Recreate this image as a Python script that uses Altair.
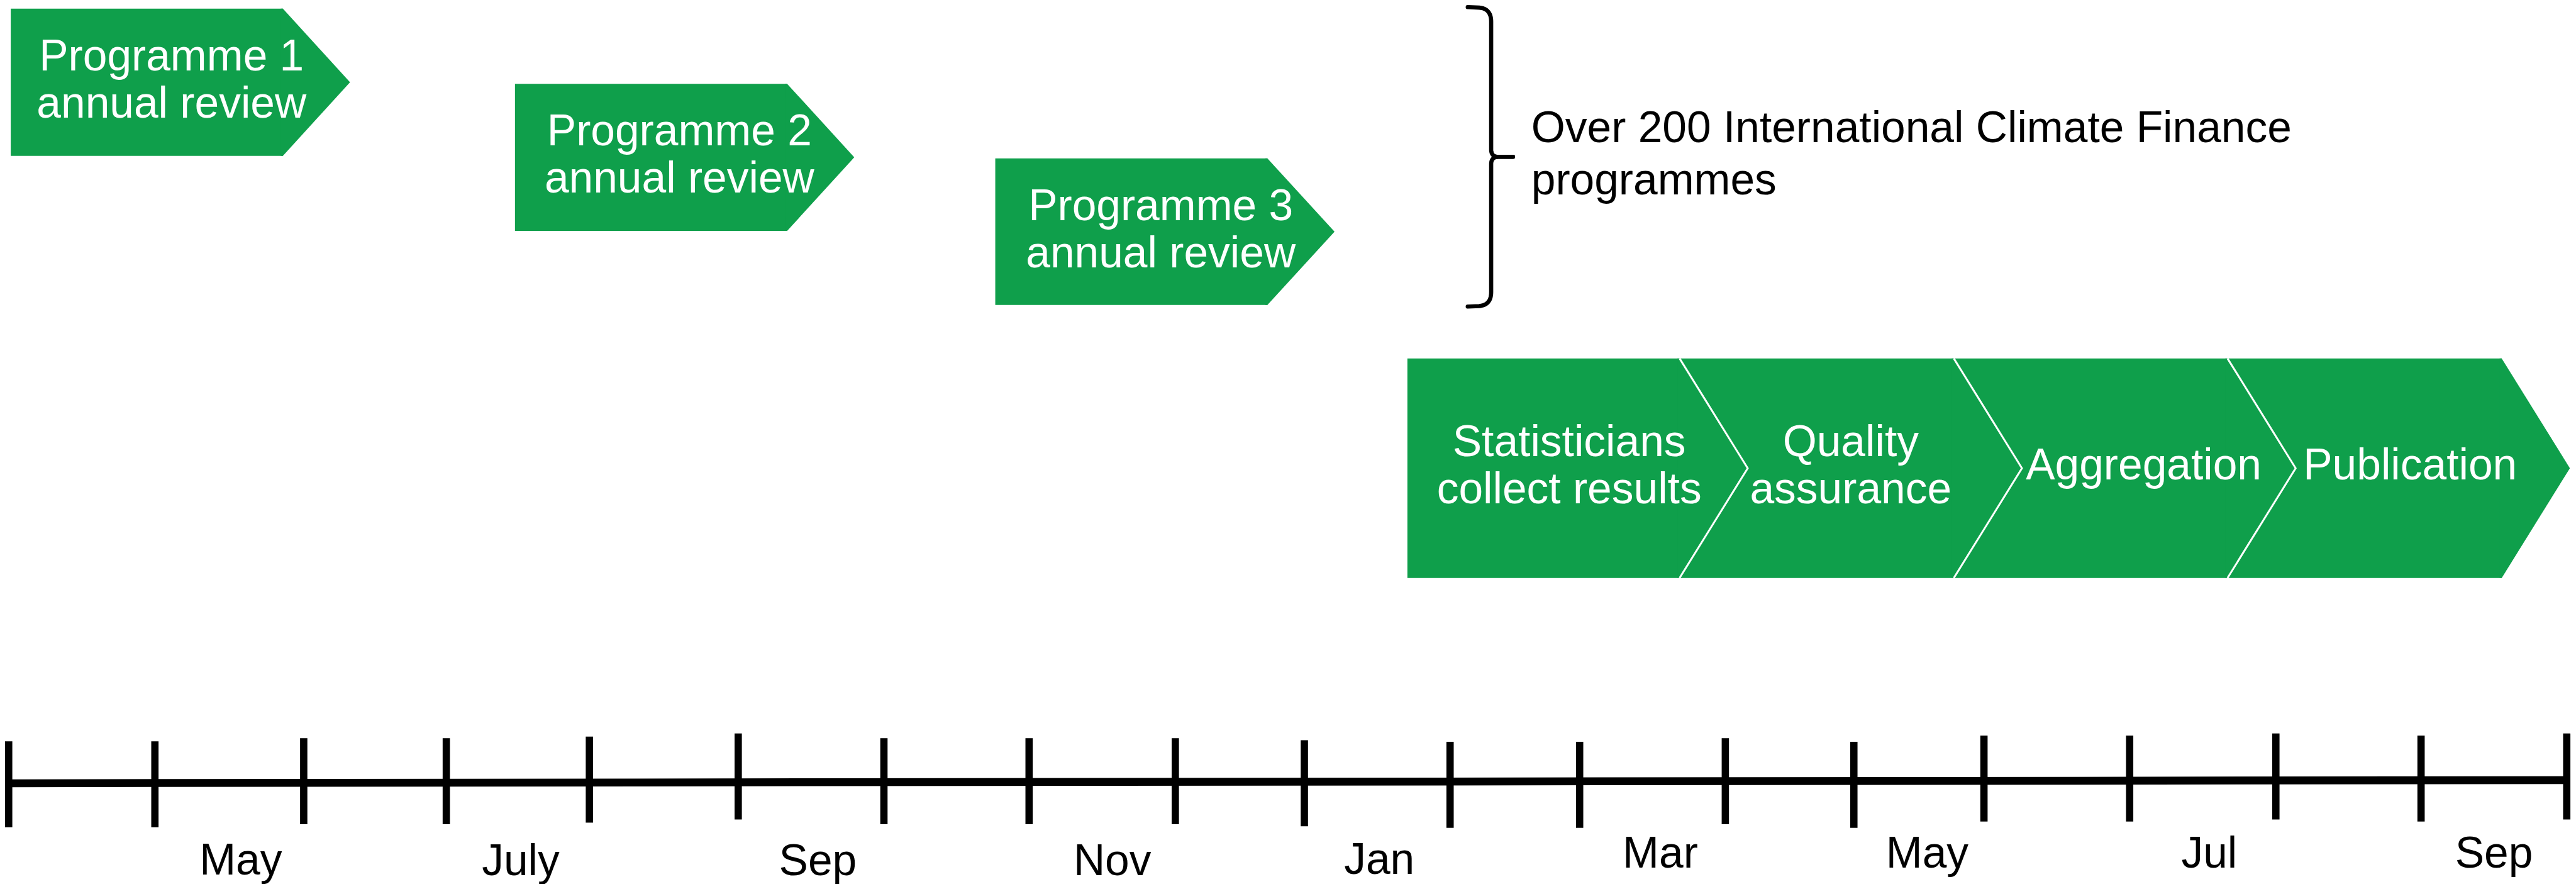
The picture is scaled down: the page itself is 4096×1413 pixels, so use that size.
import altair as alt
import pandas as pd

# ---------------- data (reference pixel units) -------------
# Programme annual review boxes
prog_labels = ["Programme 1\nannual review", "Programme 2\nannual review", "Programme 3\nannual review"]
prog_left = [13, 982, 1905]
prog_top = [13, 158, 302]
prog_bottom = [297, 442, 585]
prog_text_x = [322, 1298, 2223]

# Process chevrons
stage_labels = ["Statisticians\ncollect results", "Quality\nassurance", "Aggregation", "Publication"]
stage_edges = [2697, 3220, 3747, 4273, 4800]
stage_text_x = [3008, 3549, 4112, 4624]
stage_text_y = [877, 877, 922, 922]
stage_top, stage_bottom = 688, 1112

# Bracket + note
note_text = "Over 200 International Climate Finance\nprogrammes"
note_x, note_y = 2935, 271

# Timeline
tick_x = [9, 290, 576, 850, 1125, 1411, 1691, 1970, 2251, 2499, 2779, 3028,
          3308, 3555, 3805, 4085, 4366, 4645, 4925]
tick_top = [1427, 1427, 1421, 1421, 1418, 1412, 1421, 1421, 1421, 1425, 1428,
            1428, 1421, 1428, 1416, 1416, 1412, 1416, 1412]
months = ["May", "July", "Sep", "Nov", "Jan", "Mar", "May", "Jul", "Sep"]
month_x = [455, 993, 1564, 2130, 2643, 3183, 3696, 4238, 4785]
month_y = [1684, 1685, 1685, 1686, 1683, 1671, 1671, 1671, 1671]

# ---------------- geometry / style ----------------
GREEN = "#0F9F4B"
FONT = "Liberation Sans"
S_X, S_Y = 0.8274, 0.8235
X0, Y0 = 2, 6
W, H = 4080, 1397
FS = 69.5
BODY = 523
DEPTH = 129
NOTCH = 131
TICK_LEN = 166
OVERLAP = 4

xs = alt.Scale(domain=[X0, X0 + W / S_X], nice=False, zero=False)
ys = alt.Scale(domain=[Y0, Y0 + H / S_Y], nice=False, zero=False, reverse=True)

# rectangular bodies + triangular tips of every arrow shape
bodies, tips = [], []
for i, (l, t, b) in enumerate(zip(prog_left, prog_top, prog_bottom)):
    r = l + BODY
    bodies.append(dict(shape=f"p{i}", x=l, x2=r, y=t, y2=b))
    m = (t + b) / 2
    tips += [dict(shape=f"p{i}", x=r - OVERLAP, y=t, y2=b),
             dict(shape=f"p{i}", x=r, y=t, y2=b),
             dict(shape=f"p{i}", x=r + DEPTH, y=m, y2=m)]
for i in range(len(stage_labels)):
    l, r = stage_edges[i], stage_edges[i + 1]
    m = (stage_top + stage_bottom) / 2
    bodies.append(dict(shape=f"s{i}", x=l, x2=r, y=stage_top, y2=stage_bottom))
    tips += [dict(shape=f"s{i}", x=r - OVERLAP, y=stage_top, y2=stage_bottom),
             dict(shape=f"s{i}", x=r, y=stage_top, y2=stage_bottom),
             dict(shape=f"s{i}", x=r + NOTCH, y=m, y2=m)]
body_df = pd.DataFrame(bodies)
tip_df = pd.DataFrame(tips)

# white divider lines between the chevrons
drows = []
for i in range(1, len(stage_labels)):
    l = stage_edges[i]
    m = (stage_top + stage_bottom) / 2
    drows += [dict(part=i, k=0, x=l, y=stage_top),
              dict(part=i, k=1, x=l + NOTCH, y=m),
              dict(part=i, k=2, x=l, y=stage_bottom)]
div_df = pd.DataFrame(drows)

# text lines
trows = []
for lab, x, t in zip(prog_labels, prog_text_x, prog_top):
    for j, line in enumerate(lab.split("\n")):
        trows.append(dict(x=x, y=t + 119 + j * 91, text=line))
for lab, x, y in zip(stage_labels, stage_text_x, stage_text_y):
    for j, line in enumerate(lab.split("\n")):
        trows.append(dict(x=x, y=y + j * 91, text=line))
white_text = pd.DataFrame(trows)

note_df = pd.DataFrame([dict(x=note_x, y=note_y + j * 101, text=line)
                        for j, line in enumerate(note_text.split("\n"))])

month_df = pd.DataFrame(dict(x=month_x, y=month_y, text=months))

tick_df = pd.DataFrame(dict(x=tick_x, y=tick_top, y2=[t + TICK_LEN for t in tick_top]))
axis_df = pd.DataFrame([dict(x=tick_x[0], x2=tick_x[-1] + 2, y=1508, y2=1502)])


# curly bracket
def quad(p0, c, p1, n=14):
    out = []
    for i in range(n + 1):
        t = i / n
        out.append(((1 - t) ** 2 * p0[0] + 2 * (1 - t) * t * c[0] + t ** 2 * p1[0],
                    (1 - t) ** 2 * p0[1] + 2 * (1 - t) * t * c[1] + t ** 2 * p1[1]))
    return out


bx, btop, bmid, bbot, bhook, btip = 2858, 10, 299, 588, 2813, 2900
upper = [(bhook, btop)] + quad((bhook + 22, btop + 1), (bx, btop + 3), (bx, btop + 28)) \
    + quad((bx, bmid - 14), (bx, bmid), (bx + 14, bmid)) + [(btip, bmid)]
lower = [(btip, bmid)] + quad((bx + 14, bmid), (bx, bmid), (bx, bmid + 14)) \
    + quad((bx, bbot - 28), (bx, bbot - 3), (bhook + 22, bbot - 1)) + [(bhook, bbot)]
brows = [dict(part="u", k=i, x=p[0], y=p[1]) for i, p in enumerate(upper)] + \
        [dict(part="l", k=i, x=p[0], y=p[1]) for i, p in enumerate(lower)]
brace_df = pd.DataFrame(brows)

X = lambda f="x": alt.X(f"{f}:Q", scale=xs, axis=None)
Y = lambda f="y": alt.Y(f"{f}:Q", scale=ys, axis=None)

# ---------------- layers ----------------
body = alt.Chart(body_df).mark_rect(color=GREEN, strokeWidth=0).encode(
    x=X(), x2="x2:Q", y=Y(), y2="y2:Q"
)

tip = alt.Chart(tip_df).mark_area(color=GREEN, interpolate="linear").encode(
    x=X(),
    y=alt.Y("y:Q", scale=ys, axis=None, stack=None),
    y2="y2:Q",
    detail="shape:N",
)

dividers = alt.Chart(div_df).mark_line(
    color="white", strokeWidth=3, strokeJoin="miter", strokeCap="butt"
).encode(x=X(), y=Y(), detail="part:N", order="k:Q")

wtext = alt.Chart(white_text).mark_text(
    font=FONT, fontSize=FS, color="white", align="center", baseline="alphabetic"
).encode(x=X(), y=Y(), text="text:N")

ntext = alt.Chart(note_df).mark_text(
    font=FONT, fontSize=FS, color="black", align="left", baseline="alphabetic"
).encode(x=X(), y=Y(), text="text:N")

mtext = alt.Chart(month_df).mark_text(
    font=FONT, fontSize=FS, color="black", align="center", baseline="alphabetic"
).encode(x=X(), y=Y(), text="text:N")

brace = alt.Chart(brace_df).mark_line(
    color="black", strokeWidth=6.6, strokeCap="round", strokeJoin="round"
).encode(x=X(), y=Y(), detail="part:N", order="k:Q")

axis_line = alt.Chart(axis_df).mark_rule(color="black", strokeWidth=12.5, strokeCap="butt").encode(
    x=X(), x2="x2:Q", y=Y(), y2="y2:Q"
)

ticks = alt.Chart(tick_df).mark_rule(color="black", strokeWidth=11.6, strokeCap="butt").encode(
    x=X(), y=Y(), y2="y2:Q"
)

chart = alt.layer(body, tip, dividers, wtext, brace, ntext, axis_line, ticks, mtext).properties(
    width=W, height=H, padding=0, background="white",
    autosize=alt.AutoSizeParams(type="none"),
).configure_view(stroke=None)

chart.save("out.html", embed_options={"renderer": "svg", "actions": False})
